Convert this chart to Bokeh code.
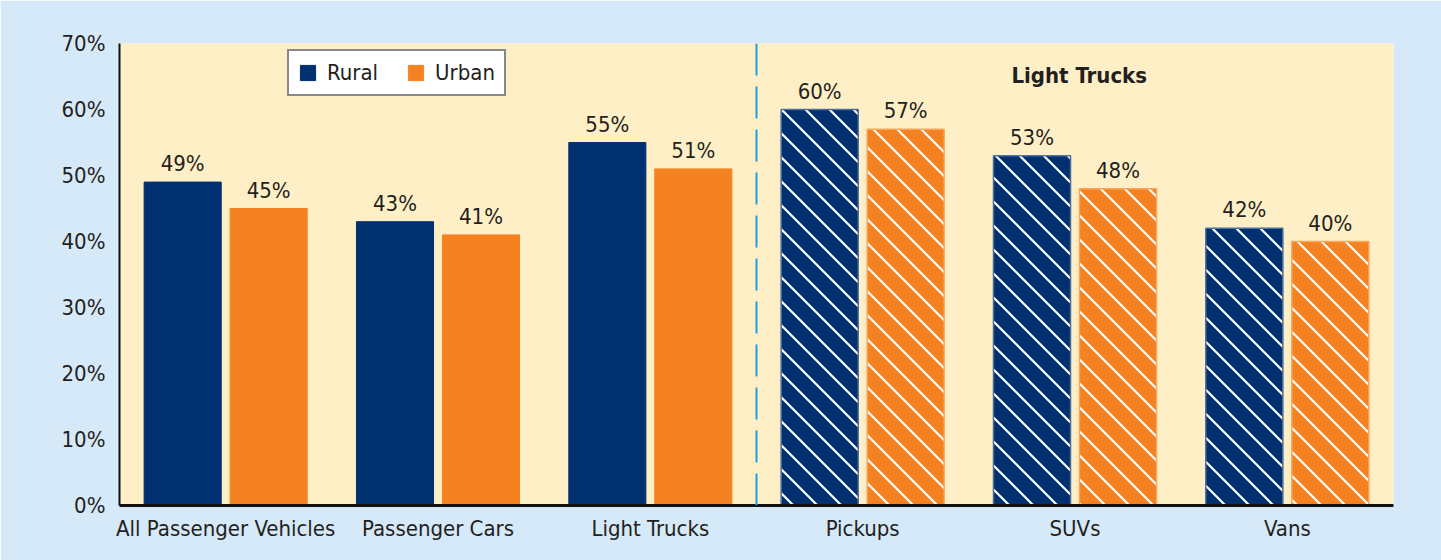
from urllib.parse import quote
from bokeh.plotting import figure
from bokeh.models import (FactorRange, Range1d, Span, Label, Legend, LegendItem,
                          PrintfTickFormatter, ColumnDataSource, FixedTicker, ImageURLTexture)
from bokeh.transform import dodge
from bokeh.core.properties import value
from bokeh.embed import file_html
from bokeh.resources import INLINE

# ---- data ----
categories = ["All Passenger Vehicles", "Passenger Cars", "Light Trucks",
              "Pickups", "SUVs", "Vans"]
rural = [49, 43, 55, 60, 53, 42]
urban = [45, 41, 51, 57, 48, 40]
light_truck_types = ["Pickups", "SUVs", "Vans"]
series_names = ["Rural", "Urban"]
group_label = "Light Trucks"
y_ticks = [0, 10, 20, 30, 40, 50, 60, 70]

# ---- style ----
FONT = "DejaVu Sans Condensed, Roboto"
NAVY = "#00306F"
ORANGE = "#F58220"
CREAM = "#FFEFC6"
SKY = "#D6E9F8"
INK = "#231F20"
FS = "22px"

tile_svg = ("<svg xmlns='http://www.w3.org/2000/svg' width='24' height='24'>"
            "<path d='M-2,-2L26,26M-2,22L2,26M22,-2L26,2' stroke='white' "
            "stroke-width='2.2' fill='none'/></svg>")
diag = ImageURLTexture(url="data:image/svg+xml;charset=utf-8," + quote(tile_svg))


def make_source(hatched):
    idx = [i for i, c in enumerate(categories) if (c in light_truck_types) == hatched]
    return ColumnDataSource(dict(
        cat=[categories[i] for i in idx],
        rural=[rural[i] for i in idx],
        urban=[urban[i] for i in idx],
    ))


all_src = ColumnDataSource(dict(
    cat=categories, rural=rural, urban=urban,
    rural_lbl=[f"{v}%" for v in rural],
    urban_lbl=[f"{v}%" for v in urban],
))
solid = make_source(False)
hatched = make_source(True)

p = figure(x_range=FactorRange(factors=categories, range_padding=0, factor_padding=0),
           y_range=Range1d(0, 70),
           frame_width=1274, frame_height=462,
           min_border_left=119, min_border_right=48,
           min_border_top=43, min_border_bottom=55,
           output_backend="svg", toolbar_location=None,
           background_fill_color=CREAM, border_fill_color=SKY,
           outline_line_color=None)

OFF = 0.2025
W = 0.363
xr = dodge("cat", -OFF, range=p.x_range)
xu = dodge("cat", OFF, range=p.x_range)

r_s = p.vbar(x=xr, top="rural", width=W, source=solid,
             fill_color=NAVY, line_color=NAVY)
u_s = p.vbar(x=xu, top="urban", width=W, source=solid,
             fill_color=ORANGE, line_color=ORANGE)
hatch = dict(hatch_pattern=value("diag"), hatch_extra={"diag": diag},
             hatch_color="white", hatch_weight=2.2, hatch_scale=24)
p.vbar(x=xr, top="rural", width=W, source=hatched,
       fill_color=NAVY, line_color="#4D6F9C", line_width=1.5, **hatch)
p.vbar(x=xu, top="urban", width=W, source=hatched,
       fill_color=ORANGE, line_color="#F9A65C", line_width=1.5, **hatch)

common = dict(text_align="center", text_baseline="bottom", y_offset=-6,
              text_font=value(FONT), text_font_size=FS, text_color=INK)
p.text(x=xr, y="rural", text="rural_lbl", source=all_src, **common)
p.text(x=xu, y="urban", text="urban_lbl", source=all_src, **common)

p.add_layout(Span(location=3, dimension="height", line_color="#1BA1DF",
                  line_width=2, line_dash="32 11"))

p.add_layout(Label(x=4.52, y=65.2, text=group_label, text_align="center",
                   text_baseline="middle", text_font=FONT, text_font_size=FS,
                   text_font_style="bold", text_color=INK))

legend = Legend(items=[LegendItem(label=series_names[0], renderers=[r_s]),
                       LegendItem(label=series_names[1], renderers=[u_s])],
                location=(168, 462 - 14 - 39), orientation="horizontal",
                glyph_width=19, glyph_height=19, label_standoff=10, spacing=28,
                padding=9, margin=0,
                label_text_font=FONT, label_text_font_size=FS, label_text_color=INK,
                border_line_color="#111111", border_line_width=2.5,
                background_fill_color="white", background_fill_alpha=1)
p.add_layout(legend)

p.xgrid.grid_line_color = None
p.ygrid.grid_line_color = None

p.yaxis.ticker = FixedTicker(ticks=y_ticks)
p.yaxis.formatter = PrintfTickFormatter(format="%d%%")
p.yaxis.axis_line_color = "#111111"
p.yaxis.axis_line_width = 2
p.yaxis.major_tick_line_color = None
p.yaxis.minor_tick_line_color = None
p.yaxis.major_tick_out = 0
p.yaxis.major_label_standoff = 14

p.xaxis.axis_line_color = "#111111"
p.xaxis.axis_line_width = 3
p.xaxis.major_tick_line_color = None
p.xaxis.minor_tick_line_color = None
p.xaxis.major_tick_out = 0
p.xaxis.major_label_standoff = 10

for ax in (p.xaxis, p.yaxis):
    ax.major_label_text_font = FONT
    ax.major_label_text_font_size = FS
    ax.major_label_text_color = INK

open("out.html", "w").write(file_html(p, INLINE))
